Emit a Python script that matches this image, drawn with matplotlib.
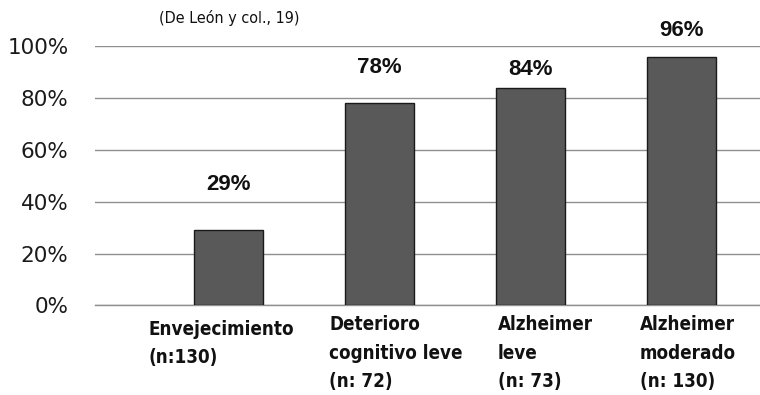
import matplotlib

matplotlib.use("Agg")

import matplotlib.pyplot as plt
from matplotlib.ticker import FuncFormatter, MultipleLocator

# Porcentaje por grupo diagnóstico
CATEGORIES = [
    "Envejecimiento\n(n:130)",
    "Deterioro\ncognitivo leve\n(n: 72)",
    "Alzheimer\nleve\n(n: 73)",
    "Alzheimer\nmoderado\n(n: 130)",
]
VALUES = [29, 78, 84, 96]
SOURCE = "(De León y col., 19)"

# Colocación de los textos (unidades de datos)
VALUE_LABEL_Y = [46.7, 92, 91, 106.3]
CAT_LABEL_DX = [-0.533, -0.334, -0.215, -0.275]
CAT_LABEL_Y = [-5.6, -3.8, -3.8, -3.8]

BAR_COLOR = "#595959"
GRID_COLOR = "#8f8f8f"


def main() -> None:
    fig = plt.figure(figsize=(7.6, 3.95), dpi=100)
    ax = fig.add_axes([0.125, 0.2266, 0.875, 0.6557])

    x = list(range(len(VALUES)))
    ax.bar(x, VALUES, width=0.457, color=BAR_COLOR, edgecolor="#1a1a1a",
           linewidth=1.0, zorder=3)

    ax.set_xlim(-0.884, 3.52)
    ax.set_ylim(0, 100)
    ax.yaxis.set_major_locator(MultipleLocator(20))
    ax.yaxis.set_major_formatter(FuncFormatter(lambda v, _: f"{v:.0f}%"))
    ax.set_xticks([])

    ax.grid(axis="y", color=GRID_COLOR, linewidth=1.0, zorder=0)
    for side in ("top", "right", "left"):
        ax.spines[side].set_visible(False)
    ax.spines["bottom"].set_color(GRID_COLOR)
    ax.spines["bottom"].set_linewidth(1.0)
    ax.tick_params(axis="y", length=0, pad=19, labelsize=15.5, labelcolor="#1a1a1a")

    # Etiquetas de valor sobre cada barra
    for xi, v, ly in zip(x, VALUES, VALUE_LABEL_Y):
        ax.text(xi, ly, f"{v}%", ha="center", va="center", fontsize=16,
                fontweight="bold", fontstretch="normal", family="Liberation Sans",
                color="#111111", clip_on=False)

    # Nombres de los grupos bajo el eje
    for xi, name, dx, ly in zip(x, CATEGORIES, CAT_LABEL_DX, CAT_LABEL_Y):
        ax.text(xi + dx, ly, name, ha="left", va="top", fontsize=13.5,
                fontweight="bold", fontstretch="condensed", family="DejaVu Sans",
                linespacing=1.62, color="#111111", clip_on=False)

    fig.text(229 / 760, 1 - 18 / 395, SOURCE, ha="center", va="center",
             fontsize=11.5, fontstretch="condensed", family="DejaVu Sans",
             color="#111111")

    fig.savefig("out.png", dpi=100)
    plt.close(fig)


if __name__ == "__main__":
    main()
